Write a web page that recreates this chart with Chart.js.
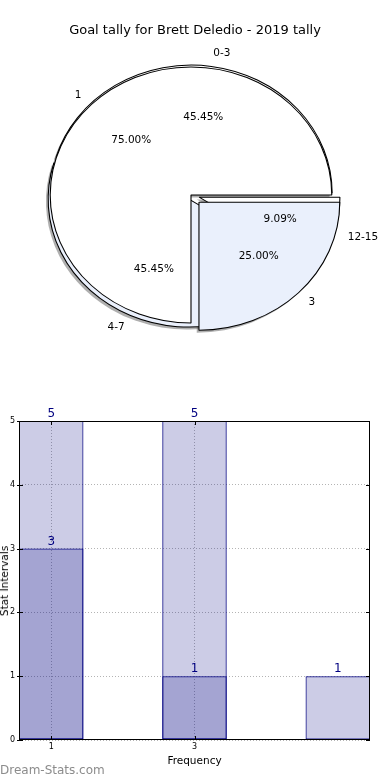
<!DOCTYPE html>
<html>
<head>
<meta charset="utf-8">
<script src="https://cdn.jsdelivr.net/npm/chart.js@4.4.1/dist/chart.umd.min.js"></script>
<style>
  html, body { margin: 0; padding: 0; background: #fff; }
  body { width: 390px; height: 780px; position: relative; overflow: hidden; font-family: "DejaVu Sans", sans-serif; }
  canvas { position: absolute; left: 0; }
  #pie { top: 0; }
  #bars { top: 400px; }
  .txt { position: absolute; white-space: nowrap; color: #000; }
</style>
</head>
<body>
<canvas id="pie" width="390" height="390"></canvas>
<canvas id="bars" width="390" height="380"></canvas>
<div class="txt" style="left:0;width:390px;top:22px;text-align:center;font-size:13px;line-height:16px">Goal tally for Brett Deledio - 2019 tally</div>
<div class="txt" style="left:19px;width:351px;top:753px;text-align:center;font-size:10.5px;line-height:14px">Frequency</div>
<div class="txt" style="left:4px;top:581px;font-size:10.5px;line-height:14px;transform:translate(-50%,-50%) rotate(-90deg)">Stat Intervals</div>
<div class="txt" style="left:0;top:763px;font-size:12px;line-height:14px;color:#8c8c8c">Dream-Stats.com</div>
<script>
// goal ranges (outer pie / light bars)
var outerLabels = ['0-3', '4-7', '12-15'];
var outerValues = [5, 5, 1];
// frequencies (inner pie / dark bars)
var innerLabels = ['1', '3'];
var innerValues = [3, 1];
// bar chart x tick labels
var xTickLabels = ['1', '3'];

Chart.defaults.font.family = '"DejaVu Sans", sans-serif';

var paleBlue = '#eaf0fc';

// matplotlib goes counter-clockwise from 3 o'clock, chart.js goes clockwise -> reverse
function pieDataset(labels, values, colors, explode, order) {
	return {
		data: values.slice().reverse(),
		sliceLabels: labels.slice().reverse(),
		backgroundColor: colors.slice().reverse(),
		explode: explode.slice().reverse(),
		borderColor: '#000',
		borderWidth: 1,
		order: order
	};
}

var pieDecor = {
	id: 'pieDecor',
	afterDatasetsUpdate: function(chart, args, opts) {
		// both pies full size, exploded wedges pushed out along their middle
		chart.getSortedVisibleDatasetMetas().forEach(function(meta) {
			var ds = chart.data.datasets[meta.index];
			meta.data.forEach(function(arc, j) {
				var mid = (arc.startAngle + arc.endAngle) / 2;
				var push = ds.explode[j] * opts.radius;
				arc.x += Math.cos(mid) * push;
				arc.y += Math.sin(mid) * push;
				arc.innerRadius = 0;
				arc.outerRadius = opts.radius;
			});
		});
	},
	beforeDatasetsDraw: function(chart, args, opts) {
		var ctx = chart.ctx, a = chart.chartArea;
		var cx = (a.left + a.right) / 2, cy = (a.top + a.bottom) / 2;
		ctx.save();
		ctx.translate(cx, cy);
		ctx.scale(opts.stretch, 1);
		ctx.translate(-cx, -cy);
		// shadows go under everything
		ctx.save();
		ctx.translate(-2, 2.4);
		ctx.fillStyle = 'rgba(77,77,77,0.45)';
		chart.getSortedVisibleDatasetMetas().forEach(function(meta) {
			meta.data.forEach(function(arc) {
				ctx.beginPath();
				ctx.moveTo(arc.x, arc.y);
				ctx.arc(arc.x, arc.y, arc.outerRadius, arc.startAngle, arc.endAngle);
				ctx.closePath();
				ctx.fill();
			});
		});
		ctx.restore();
	},
	afterDatasetsDraw: function(chart, args, opts) {
		var ctx = chart.ctx, a = chart.chartArea;
		ctx.restore();
		var cx = (a.left + a.right) / 2;
		ctx.save();
		ctx.fillStyle = '#000';
		ctx.font = '10.5px "DejaVu Sans"';
		ctx.textBaseline = 'middle';
		chart.getSortedVisibleDatasetMetas().forEach(function(meta) {
			var ds = chart.data.datasets[meta.index];
			var total = ds.data.reduce(function(s, v) { return s + v; }, 0);
			meta.data.forEach(function(arc, j) {
				var mid = (arc.startAngle + arc.endAngle) / 2;
				var c = Math.cos(mid), s = Math.sin(mid);
				var R = arc.outerRadius;
				var lx = cx + opts.stretch * (arc.x - cx + c * R * 1.1);
				var ly = arc.y + s * R * 1.1;
				ctx.textAlign = c >= 0 ? 'left' : 'right';
				ctx.fillText(ds.sliceLabels[j], lx, ly);
				var px = cx + opts.stretch * (arc.x - cx + c * R * 0.6);
				var py = arc.y + s * R * 0.6;
				ctx.textAlign = 'center';
				ctx.fillText((ds.data[j] / total * 100).toFixed(2) + '%', px, py);
			});
		});
		ctx.restore();
	}
};

new Chart(document.getElementById('pie'), {
	type: 'pie',
	data: {
		datasets: [
			pieDataset(outerLabels, outerValues, ['#ffffff', paleBlue, '#ffffff'], [0.015, 0.035, 0.06], 2),
			pieDataset(innerLabels, innerValues, ['#ffffff', paleBlue], [0, 0.08], 1)
		]
	},
	options: {
		responsive: false,
		animation: false,
		events: [],
		rotation: 90,
		layout: { padding: { left: 0, right: 8, top: 0, bottom: 0 } },
		plugins: {
			legend: { display: false },
			tooltip: { enabled: false },
			pieDecor: { radius: 128, stretch: 1.1 }
		}
	},
	plugins: [pieDecor]
});

var barDecor = {
	id: 'barDecor',
	afterDatasetsDraw: function(chart) {
		var ctx = chart.ctx, a = chart.chartArea, sx = chart.scales.x, sy = chart.scales.y;
		ctx.save();
		ctx.strokeStyle = '#000';
		ctx.lineWidth = 1;
		ctx.strokeRect(a.left + 0.5, a.top + 0.5, a.right - a.left - 1, a.bottom - a.top - 1);
		// inward ticks on all four sides
		ctx.beginPath();
		sy.ticks.forEach(function(t) {
			var y = Math.round(sy.getPixelForValue(t.value)) + 0.5;
			ctx.moveTo(a.left - 2, y); ctx.lineTo(a.left + 4, y);
			ctx.moveTo(a.right, y); ctx.lineTo(a.right - 4, y);
		});
		sx.ticks.forEach(function(t) {
			var x = Math.round(sx.getPixelForValue(t.value)) + 0.5;
			ctx.moveTo(x, a.bottom); ctx.lineTo(x, a.bottom - 4);
			ctx.moveTo(x, a.top); ctx.lineTo(x, a.top + 4);
		});
		ctx.stroke();
		// values above the bars
		ctx.fillStyle = '#000080';
		ctx.font = '12px "DejaVu Sans"';
		ctx.textAlign = 'center';
		ctx.textBaseline = 'bottom';
		chart.getSortedVisibleDatasetMetas().forEach(function(meta) {
			var ds = chart.data.datasets[meta.index];
			meta.data.forEach(function(bar, j) {
				ctx.fillText(String(ds.data[j].y), bar.x, bar.y - 1);
			});
		});
		ctx.restore();
	}
};

function barDataset(values, order) {
	return {
		data: values.map(function(v, i) { return { x: i, y: v }; }),
		backgroundColor: 'rgba(0,0,128,0.2)',
		borderColor: '#000080',
		borderWidth: 1,
		borderSkipped: false,
		grouped: false,
		barPercentage: 0.45,
		categoryPercentage: 1,
		order: order
	};
}

new Chart(document.getElementById('bars'), {
	type: 'bar',
	data: {
		datasets: [
			barDataset(outerValues, 2),
			barDataset(innerValues, 1)
		]
	},
	options: {
		responsive: false,
		animation: false,
		events: [],
		layout: { padding: { left: 0, right: 20, top: 21, bottom: 0 } },
		plugins: {
			legend: { display: false },
			tooltip: { enabled: false }
		},
		scales: {
			x: {
				type: 'linear',
				min: -0.225,
				max: 2.225,
				offset: false,
				afterBuildTicks: function(scale) {
					scale.ticks = xTickLabels.map(function(l, i) { return { value: i }; });
				},
				afterFit: function(scale) { scale.height = 40; },
				ticks: {
					autoSkip: false,
					maxRotation: 0,
					padding: 2,
					color: '#000',
					font: { size: 8 },
					callback: function(v, i) { return xTickLabels[i]; }
				},
				grid: { offset: false, drawTicks: false, color: '#b4b4b4', lineWidth: 1 },
				border: { display: false, dash: [1, 2] }
			},
			y: {
				min: 0,
				max: 5,
				afterFit: function(scale) { scale.width = 19; },
				ticks: { stepSize: 1, padding: 4, color: '#000', font: { size: 8 } },
				grid: { drawTicks: false, color: '#b4b4b4', lineWidth: 1 },
				border: { display: false, dash: [1, 2] }
			}
		}
	},
	plugins: [barDecor]
});
</script>
</body>
</html>
